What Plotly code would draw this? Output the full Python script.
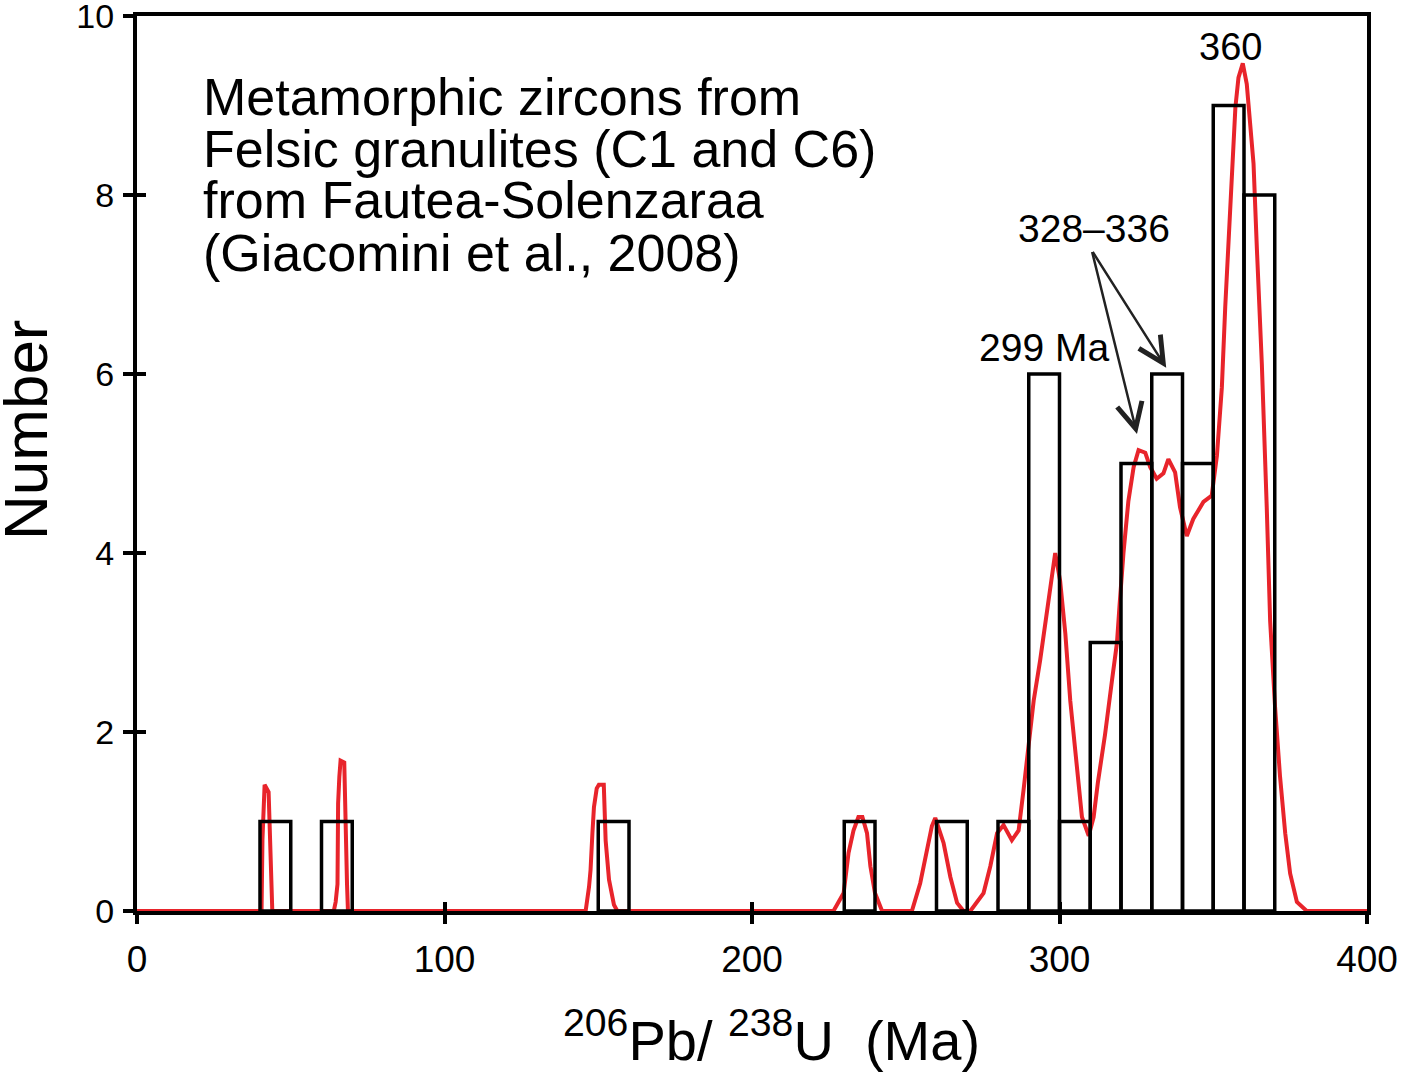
import plotly.graph_objects as go

# ---- data ----
bin_left = [40, 60, 150, 230, 260, 280, 290, 300, 310, 320, 330, 340, 350, 360]
bin_count = [1, 1, 1, 1, 1, 1, 6, 1, 3, 5, 6, 5, 9, 8]
bin_width = 10

curve_x = [0, 40.5, 40.8, 41.2, 41.5, 42.8, 43.2, 43.4, 43.8, 44.0,
           64.0, 64.6, 65.2, 65.4, 65.8, 66.2, 67.4, 67.6, 67.8, 68.3, 68.6,
           145.9, 147.0, 147.5, 148.1, 148.6, 149.5, 150.2, 151.8, 152.4, 153.5, 155.1, 156.2,
           226.5, 229.8, 231.4, 233.0, 234.6, 235.9, 237.4, 238.5, 240.0, 242.3,
           252.0, 254.7, 256.9, 258.5, 259.6, 262.3, 264.5, 266.7, 268.8,
           271.0, 275.3, 277.5, 279.7, 281.8, 284.5, 286.7, 288.3, 290.0, 291.6, 293.7,
           295.9, 297.5, 298.6, 300.2, 301.9, 303.5, 305.7, 307.3, 309.5, 311.1, 312.5,
           314.8, 317.0, 318.7, 319.5, 320.8, 322.4, 324.1, 325.7, 327.9, 329.5, 331.6,
           333.8, 335.4, 337.6, 339.2, 341.4, 343.5, 346.8, 349.5, 351.2, 352.8, 353.9,
           355.0, 356.1, 357.2, 358.2, 359.6, 360.9, 362.0, 363.1, 364.2, 365.8, 367.4,
           368.5, 370.1, 371.7, 373.4, 375.0, 377.2, 380.4, 400]
curve_y = [0, 0, 0.8, 1.3, 1.41, 1.33, 0.9, 0.45, 0.15, 0,
           0, 0.1, 0.3, 1.2, 1.5, 1.68, 1.66, 1.2, 0.7, 0.3, 0,
           0, 0.27, 0.46, 0.87, 1.16, 1.37, 1.41, 1.41, 0.79, 0.35, 0.07, 0,
           0, 0.2, 0.65, 0.9, 1.05, 1.05, 0.87, 0.5, 0.2, 0,
           0, 0.31, 0.68, 0.95, 1.04, 0.76, 0.38, 0.09, 0,
           0, 0.2, 0.5, 0.87, 0.96, 0.79, 0.9, 1.35, 1.91, 2.35, 2.8,
           3.36, 3.77, 4.0, 3.69, 3.1, 2.35, 1.61, 1.05, 0.84, 1.05, 1.44,
           1.97, 2.56, 3.0, 3.4, 4.0, 4.58, 4.96, 5.15, 5.12, 4.96, 4.83,
           4.89, 5.05, 4.90, 4.51, 4.19, 4.38, 4.57, 4.64, 5.09, 5.85, 6.75,
           7.52, 8.35, 8.98, 9.31, 9.47, 9.24, 8.79, 8.35, 7.39, 6.11, 4.51,
           3.24, 2.28, 1.51, 0.87, 0.42, 0.1, 0, 0]

x_ticks = [0, 100, 200, 300, 400]
y_ticks = [0, 2, 4, 6, 8, 10]

info_lines = ["Metamorphic zircons from",
              "Felsic granulites (C1 and C6)",
              "from Fautea-Solenzaraa",
              "(Giacomini et al., 2008)"]

RED = "#e8242b"
FONT = "Liberation Sans, Arial, sans-serif"

bin_center = [b + bin_width / 2 for b in bin_left]

fig = go.Figure()
# white bar bodies
fig.add_trace(go.Bar(x=bin_center, y=bin_count, width=bin_width,
                     marker=dict(color="white", line=dict(width=0)),
                     showlegend=False, hoverinfo="skip"))
# red probability curve
fig.add_trace(go.Scatter(x=curve_x, y=curve_y, mode="lines",
                         line=dict(color=RED, width=4),
                         showlegend=False))
# black bar outlines on overlaying axes (drawn on top)
fig.add_trace(go.Bar(x=bin_center, y=bin_count, width=bin_width,
                     marker=dict(color="rgba(0,0,0,0)", line=dict(color="black", width=3.5)),
                     xaxis="x2", yaxis="y2", showlegend=False, hoverinfo="skip"))

# page body margin is removed by the post script, so the figure sits at (0, 0)
PL, PR, PT, PB = 137, 1367, 16, 911   # plot area in window pixels
W, H = 1406, 1077
PW, PH = PR - PL, PB - PT

axis_common = dict(showgrid=False, zeroline=False, automargin=False)
fig.update_layout(
    width=W, height=H,
    margin=dict(l=PL, r=W - PR, t=PT, b=H - PB, autoexpand=False),
    paper_bgcolor="white", plot_bgcolor="white",
    barmode="overlay",
    font=dict(family=FONT, color="black"),
    xaxis=dict(range=[0, 400], tickvals=x_ticks, ticks="outside", ticklen=9, tickwidth=4,
               tickcolor="black", showline=True, linewidth=4, linecolor="black", mirror=True,
               tickfont=dict(size=37, family=FONT), ticklabelstandoff=4,
               ticklabeloverflow="allow", **axis_common),
    yaxis=dict(range=[0, 10], tickvals=y_ticks, ticks="outside", ticklen=10, tickwidth=4,
               tickcolor="black", showline=True, linewidth=4, linecolor="black", mirror=True,
               tickfont=dict(size=34, family=FONT), ticklabelstandoff=2,
               ticklabeloverflow="allow", **axis_common),
    xaxis2=dict(range=[0, 400], tickvals=x_ticks, ticks="inside", ticklen=9, tickwidth=4,
                tickcolor="black", showticklabels=False, showline=False,
                overlaying="x", anchor="y2", side="bottom", **axis_common),
    yaxis2=dict(range=[0, 10], tickvals=y_ticks, ticks="inside", ticklen=9, tickwidth=4,
                tickcolor="black", showticklabels=False, showline=False,
                overlaying="y", anchor="x2", side="left", **axis_common),
)


def px_to_paper(px, py):
    return (px - PL) / PW, (PB - py) / PH


annotations = []
line_y = [97, 149, 200, 253]
for txt, py in zip(info_lines, line_y):
    ax_, ay_ = px_to_paper(201, py)
    annotations.append(dict(text=txt, xref="paper", yref="paper", x=ax_, y=ay_,
                            xanchor="left", yanchor="middle", showarrow=False,
                            font=dict(size=52, family=FONT)))
# peak labels
annotations.append(dict(text="360", xref="x", yref="y", x=355.7, y=9.65,
                        showarrow=False, font=dict(size=38, family=FONT)))
annotations.append(dict(text="299 Ma", xref="x", yref="y", x=295.0, y=6.3,
                        showarrow=False, font=dict(size=39, family=FONT)))
annotations.append(dict(text="328\u2013336", xref="x", yref="y", x=311.2, y=7.63,
                        showarrow=False, font=dict(size=39, family=FONT)))
# arrows
for tx, ty in [(325.2, 5.33), (334.7, 6.07)]:
    annotations.append(dict(text="", xref="x", yref="y", x=tx, y=ty,
                            axref="x", ayref="y", ax=310.5, ay=7.38,
                            showarrow=True, arrowhead=5, arrowsize=2.0,
                            arrowwidth=2.5, arrowcolor="#222222", standoff=0,
                            startstandoff=0))
# axis titles
tx_, ty_ = px_to_paper(771, 1036)
annotations.append(dict(text="<sup>206</sup>Pb/ <sup>238</sup>U  (Ma)", xref="paper", yref="paper",
                        x=tx_, y=ty_, xanchor="center", yanchor="middle", showarrow=False,
                        font=dict(size=56, family=FONT)))
nx_, ny_ = px_to_paper(25, 429)
annotations.append(dict(text="Number", xref="paper", yref="paper",
                        x=nx_, y=ny_, textangle=-90,
                        xanchor="center", yanchor="middle", showarrow=False,
                        font=dict(size=62, family=FONT)))
fig.update_layout(annotations=annotations)

fig.write_html("out.html", config={"displayModeBar": False},
               post_script="document.body.style.margin='0px'; document.body.style.overflow='hidden';")
